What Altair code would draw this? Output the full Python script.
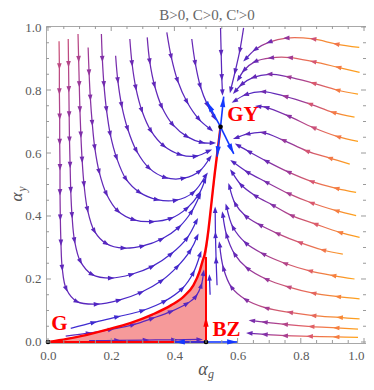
import math
import altair as alt
import pandas as pd

# ---------------- geometry of the plot area ----------------
W, H = 320, 317
X_DOM = [-0.0063, 1.0063]
Y_DOM = [-0.0032, 1.0032]

TITLE = "B>0, C>0, C'>0"
MAJOR_TICKS = [0.0, 0.2, 0.4, 0.6, 0.8, 1.0]
MINOR_TICKS = [0.05, 0.1, 0.15, 0.25, 0.3, 0.35, 0.45, 0.5, 0.55, 0.65,
               0.7, 0.75, 0.85, 0.9, 0.95]

# fixed points and their labels
FIXED_X = [0.0, 0.5, 0.546]
FIXED_Y = [0.0, 0.0, 0.683]
LABEL_TEXT = ["G", "BZ", "GY"]
LABEL_X = [0.036, 0.565, 0.617]
LABEL_Y = [0.057, 0.039, 0.72]

# blue eigen-direction arrows
GY_ARROW_X = [0.503, 0.556, 0.535, 0.588]
GY_ARROW_Y = [0.763, 0.779, 0.588, 0.597]
BZ_ARROW_X = [0.4, 0.6]
BZ_ARROW_Y = [0.0, 0.0]

# red separatrix / shaded basin
FILL_Y = [0.0, 0.01, 0.022, 0.04, 0.06, 0.087, 0.117, 0.145, 0.18, 0.225,
          0.26, 0.275, 0.35, 0.43, 0.53, 0.61, 0.683]
FILL_XL = [0.0, 0.06, 0.12, 0.19, 0.26, 0.33, 0.39, 0.43, 0.46, 0.48,
           0.49, 0.495, 0.507, 0.516, 0.527, 0.537, 0.546]
FILL_XR = [0.5, 0.5, 0.5, 0.5, 0.5, 0.5, 0.5, 0.5, 0.5, 0.5,
           0.5, 0.501, 0.51, 0.518, 0.53, 0.539, 0.546]
RED_VERT_Y = [0.0, 0.27]
RED_ARROW_TIP = [0.5, 0.082]

# ---------------- streamlines ----------------
L1 = [(0.035, 0.955), (0.036, 0.875), (0.036, 0.795), (0.037, 0.715), (0.037, 0.635),
      (0.038, 0.555), (0.038, 0.475), (0.039, 0.395), (0.041, 0.315), (0.045, 0.235),
      (0.058, 0.168), (0.092, 0.128), (0.155, 0.12), (0.225, 0.133), (0.295, 0.158),
      (0.36, 0.195), (0.41, 0.24), (0.45, 0.29), (0.472, 0.335)]
L2 = [(0.064, 0.962), (0.065, 0.882), (0.066, 0.802), (0.067, 0.722), (0.068, 0.642),
      (0.07, 0.562), (0.072, 0.482), (0.076, 0.402), (0.084, 0.322), (0.103, 0.255),
      (0.14, 0.214), (0.2, 0.203), (0.265, 0.215), (0.33, 0.24), (0.39, 0.28),
      (0.44, 0.33), (0.47, 0.385)]
L3 = [(0.095, 0.978), (0.097, 0.898), (0.099, 0.818), (0.101, 0.738), (0.104, 0.658),
      (0.108, 0.578), (0.114, 0.5), (0.125, 0.42), (0.147, 0.352), (0.185, 0.312),
      (0.24, 0.298), (0.3, 0.305), (0.36, 0.327), (0.415, 0.365), (0.455, 0.415),
      (0.48, 0.465)]
L4 = [(0.127, 0.935), (0.13, 0.855), (0.134, 0.775), (0.14, 0.695), (0.148, 0.617),
      (0.162, 0.54), (0.185, 0.47), (0.222, 0.415), (0.272, 0.388), (0.33, 0.382),
      (0.39, 0.393), (0.44, 0.425), (0.478, 0.47), (0.497, 0.515)]
L5 = [(0.169, 0.978), (0.172, 0.898), (0.177, 0.818), (0.185, 0.738), (0.197, 0.66),
      (0.217, 0.585), (0.247, 0.517), (0.29, 0.475), (0.345, 0.452), (0.405, 0.45),
      (0.46, 0.475), (0.5, 0.53)]
L6 = [(0.214, 0.909), (0.221, 0.83), (0.233, 0.752), (0.252, 0.677), (0.28, 0.607),
      (0.32, 0.552), (0.372, 0.522), (0.43, 0.52), (0.48, 0.543), (0.512, 0.585)]
L7 = [(0.259, 0.962), (0.266, 0.884), (0.278, 0.807), (0.297, 0.735), (0.326, 0.67),
      (0.367, 0.622), (0.418, 0.595), (0.468, 0.59), (0.51, 0.607)]
L8 = [(0.314, 0.967), (0.322, 0.89), (0.337, 0.815), (0.36, 0.747), (0.395, 0.69),
      (0.44, 0.652), (0.488, 0.633), (0.522, 0.632)]
L9 = [(0.376, 0.983), (0.39, 0.905), (0.41, 0.83), (0.44, 0.762), (0.478, 0.707),
      (0.515, 0.675)]
L10 = [(0.455, 0.962), (0.466, 0.885), (0.482, 0.812), (0.505, 0.752), (0.527, 0.712)]
L11 = [(0.546, 0.997), (0.548, 0.917), (0.55, 0.84), (0.552, 0.792)]
L12 = [(0.619, 0.997), (0.607, 0.925), (0.592, 0.858), (0.578, 0.8)]

U1 = [(0.985, 0.935), (0.912, 0.946), (0.839, 0.962), (0.754, 0.965), (0.7, 0.952),
      (0.655, 0.928), (0.625, 0.898)]
U2 = [(0.986, 0.856), (0.918, 0.872), (0.839, 0.89), (0.765, 0.903), (0.705, 0.902),
      (0.655, 0.89), (0.62, 0.862), (0.603, 0.835)]
U3 = [(0.981, 0.787), (0.915, 0.8), (0.839, 0.822), (0.76, 0.842), (0.7, 0.85),
      (0.65, 0.84), (0.612, 0.817), (0.592, 0.795)]
U4 = [(0.97, 0.714), (0.902, 0.729), (0.828, 0.756), (0.75, 0.78), (0.68, 0.795),
      (0.625, 0.785), (0.59, 0.765)]
U5 = [(0.981, 0.637), (0.917, 0.652), (0.839, 0.681), (0.76, 0.718), (0.69, 0.745),
      (0.665, 0.748)]
U6 = [(0.955, 0.565), (0.891, 0.584), (0.818, 0.607), (0.744, 0.641), (0.68, 0.665),
      (0.63, 0.66), (0.595, 0.648)]
R1 = [(0.975, 0.475), (0.912, 0.488), (0.833, 0.51), (0.76, 0.54), (0.69, 0.575),
      (0.635, 0.605), (0.6, 0.625)]
R2 = [(0.975, 0.401), (0.912, 0.417), (0.833, 0.442), (0.76, 0.472), (0.69, 0.508),
      (0.63, 0.54), (0.585, 0.572)]
R3 = [(0.986, 0.332), (0.923, 0.348), (0.845, 0.375), (0.77, 0.402), (0.71, 0.435),
      (0.655, 0.465), (0.61, 0.5), (0.582, 0.54)]
R4 = [(0.933, 0.279), (0.87, 0.292), (0.796, 0.316), (0.725, 0.345), (0.67, 0.372),
      (0.625, 0.4), (0.592, 0.44), (0.574, 0.495)]
R5 = [(0.97, 0.2), (0.902, 0.211), (0.828, 0.226), (0.749, 0.25), (0.68, 0.28),
      (0.625, 0.315), (0.585, 0.365), (0.565, 0.43)]
R6 = [(0.986, 0.137), (0.917, 0.144), (0.839, 0.155), (0.76, 0.175), (0.69, 0.2),
      (0.63, 0.235), (0.59, 0.28), (0.565, 0.34), (0.553, 0.405)]
R7 = [(0.986, 0.073), (0.923, 0.078), (0.839, 0.084), (0.765, 0.094), (0.69, 0.108),
      (0.625, 0.135), (0.58, 0.175), (0.555, 0.235), (0.543, 0.31)]
R8 = [(0.981, 0.041), (0.912, 0.045), (0.833, 0.049), (0.749, 0.056), (0.685, 0.063),
      (0.645, 0.068)]
R9 = [(0.981, 0.015), (0.912, 0.016), (0.828, 0.018), (0.749, 0.02), (0.685, 0.024),
      (0.637, 0.028)]
V1 = [(0.513, 0.15), (0.511, 0.205)]
V2 = [(0.535, 0.18), (0.532, 0.26), (0.53, 0.34), (0.529, 0.42)]
G1 = [(0.072, 0.043), (0.145, 0.062), (0.22, 0.08), (0.3, 0.1), (0.37, 0.13),
      (0.425, 0.17), (0.46, 0.22), (0.482, 0.28)]
F1 = [(0.056, 0.019), (0.13, 0.028), (0.2, 0.04), (0.27, 0.055), (0.33, 0.075),
      (0.39, 0.097), (0.44, 0.122), (0.468, 0.145), (0.485, 0.18), (0.492, 0.22)]
F2 = [(0.13, 0.004), (0.22, 0.005), (0.31, 0.006), (0.4, 0.007), (0.48, 0.008)]

# (points, colour index at start, colour index at end); 0 = slow/blue, 1 = fast/orange
STREAMS = [
    (L1, 0.72, 0.08), (L2, 0.7, 0.1), (L3, 0.68, 0.12), (L4, 0.62, 0.12),
    (L5, 0.56, 0.15), (L6, 0.5, 0.18), (L7, 0.5, 0.2), (L8, 0.48, 0.22),
    (L9, 0.46, 0.22), (L10, 0.44, 0.22), (L11, 0.4, 0.3), (L12, 0.42, 0.3),
    (U1, 1.0, 0.3), (U2, 1.0, 0.3), (U3, 1.0, 0.3), (U4, 1.0, 0.3),
    (U5, 1.0, 0.35), (U6, 1.0, 0.3), (R1, 1.0, 0.28), (R2, 1.0, 0.28),
    (R3, 1.0, 0.25), (R4, 0.97, 0.25), (R5, 1.0, 0.25), (R6, 1.0, 0.25),
    (R7, 1.0, 0.28), (R8, 1.0, 0.5), (R9, 1.0, 0.45), (V1, 0.12, 0.12),
    (V2, 0.22, 0.18), (G1, 0.05, 0.1), (F1, 0.38, 0.3), (F2, 0.35, 0.35),
]

PALETTE = [(0.0, "#3a2cd4"), (0.25, "#4d26c4"), (0.45, "#6a29b4"),
           (0.6, "#9c3898"), (0.75, "#d9586f"), (0.88, "#f47a46"), (1.0, "#ffa31a")]


def _hex(c):
    return tuple(int(c[i:i + 2], 16) for i in (1, 3, 5))


def pal(c):
    c = max(0.0, min(1.0, c))
    for (a, ca), (b, cb) in zip(PALETTE[:-1], PALETTE[1:]):
        if c <= b:
            t = (c - a) / (b - a)
            ra, rb = _hex(ca), _hex(cb)
            return "#" + "".join("%02x" % round(ra[k] + (rb[k] - ra[k]) * t) for k in range(3))
    return PALETTE[-1][1]


XS = W / (X_DOM[1] - X_DOM[0])
YS = H / (Y_DOM[1] - Y_DOM[0])

SX = alt.Scale(domain=X_DOM, nice=False, zero=False)
SY = alt.Scale(domain=Y_DOM, nice=False, zero=False)
FONT = "Liberation Serif"
AX = alt.Axis(values=MAJOR_TICKS, format=".1f", ticks=False, domain=False, grid=False,
              labelFont=FONT, labelFontSize=13, labelColor="#5a5a5a", labelPadding=6,
              labelFlush=False, labelOverlap=False, labelBound=False,
              labelAlign=alt.ExprRef(expr="datum.value >= 0.99 ? 'right' : 'center'"),
              title=None)
AY = alt.Axis(values=MAJOR_TICKS, format=".1f", ticks=False, domain=False, grid=False,
              labelFont=FONT, labelFontSize=13, labelColor="#5a5a5a", labelPadding=5,
              labelOverlap=False, title=None)


def X(f="x"):
    return alt.X(f, type="quantitative", scale=SX, axis=AX, title=None)


def Y(f="y"):
    return alt.Y(f, type="quantitative", scale=SY, axis=AY, title=None)


def angle_of(dx, dy):
    return math.degrees(math.atan2(dx * XS, dy * YS)) % 360.0


layers = []

# shaded basin
fill_df = pd.DataFrame({"y": FILL_Y, "x": FILL_XL, "xr": FILL_XR})
layers.append(alt.Chart(fill_df).mark_area(orient="horizontal", color="#f69a9a", opacity=1)
              .encode(y=Y(), x=X(), x2=alt.X2("xr")))

# streamlines with colour gradients, plus arrowheads
arrow_rows = []
for pts, c0, c1 in STREAMS:
    xs = [p[0] for p in pts]
    ys = [p[1] for p in pts]
    xmin, xmax, ymin, ymax = min(xs), max(xs), min(ys), max(ys)
    w = max(xmax - xmin, 1e-4)
    h = max(ymax - ymin, 1e-4)
    grad = {
        "gradient": "linear",
        "x1": (xs[0] - xmin) / w, "y1": (ymax - ys[0]) / h,
        "x2": (xs[-1] - xmin) / w, "y2": (ymax - ys[-1]) / h,
        "stops": [{"offset": o, "color": pal(c0 + (c1 - c0) * o)}
                  for o in (0.0, 0.25, 0.5, 0.75, 1.0)],
    }
    df = pd.DataFrame({"x": xs, "y": ys, "o": list(range(len(xs)))})
    layers.append(alt.Chart(df).mark_line(interpolate="catmull-rom", strokeWidth=1.25,
                                          stroke=grad)
                  .encode(x=X(), y=Y(), order="o:Q"))
    seg = [math.hypot((xs[i + 1] - xs[i]) * XS, (ys[i + 1] - ys[i]) * YS)
           for i in range(len(xs) - 1)]
    total = sum(seg)
    cum = 0.0
    for i in range(1, len(xs)):
        cum += seg[i - 1]
        j = min(i + 1, len(xs) - 1)
        a = angle_of(xs[j] - xs[i - 1], ys[j] - ys[i - 1])
        arrow_rows.append({"x": xs[i], "y": ys[i], "a": a,
                           "col": pal(c0 + (c1 - c0) * cum / total)})

STREAM_ARROW = "M0,-1L0.72,1L-0.72,1Z"
layers.append(alt.Chart(pd.DataFrame(arrow_rows))
              .mark_point(shape=STREAM_ARROW, filled=True, size=42, opacity=1, strokeWidth=0)
              .encode(x=X(), y=Y(), angle=alt.Angle("a:Q", scale=None),
                      fill=alt.Fill("col:N", scale=None)))

# red separatrix
curve_df = pd.DataFrame({"x": FILL_XL, "y": FILL_Y, "o": list(range(len(FILL_Y)))})
layers.append(alt.Chart(curve_df).mark_line(color="#ff0000", strokeWidth=2.4,
                                            interpolate="monotone")
              .encode(x=X(), y=Y(), order="o:Q"))
red_rules = pd.DataFrame({"x": [0.5, 0.0], "y": [RED_VERT_Y[0], 0.0],
                          "x2": [0.5, 0.5], "y2": [RED_VERT_Y[1], 0.0]})
layers.append(alt.Chart(red_rules).mark_rule(color="#ff0000", strokeWidth=2)
              .encode(x=X(), y=Y(), x2=alt.X2("x2"), y2=alt.Y2("y2")))

TIP_ARROW = "M0,0L0.5,2L-0.5,2Z"
layers.append(alt.Chart(pd.DataFrame({"x": [RED_ARROW_TIP[0]], "y": [RED_ARROW_TIP[1]],
                                      "a": [0.0]}))
              .mark_point(shape=TIP_ARROW, filled=True, size=110, color="#ff0000",
                          opacity=1, strokeWidth=0)
              .encode(x=X(), y=Y(), angle=alt.Angle("a:Q", scale=None)))

# blue arrows
blue_rows = []
for ex, ey in zip(GY_ARROW_X, GY_ARROW_Y):
    blue_rows.append({"x": FIXED_X[2], "y": FIXED_Y[2], "x2": ex, "y2": ey,
                      "a": angle_of(ex - FIXED_X[2], ey - FIXED_Y[2])})
for ex, ey in zip(BZ_ARROW_X, BZ_ARROW_Y):
    blue_rows.append({"x": FIXED_X[1], "y": FIXED_Y[1], "x2": ex, "y2": ey,
                      "a": angle_of(ex - FIXED_X[1], ey - FIXED_Y[1])})
blue_df = pd.DataFrame(blue_rows)
layers.append(alt.Chart(blue_df).mark_rule(color="#1438ff", strokeWidth=1.6)
              .encode(x=X(), y=Y(), x2=alt.X2("x2"), y2=alt.Y2("y2")))
layers.append(alt.Chart(blue_df)
              .mark_point(shape=TIP_ARROW, filled=True, size=110, color="#1438ff",
                          opacity=1, strokeWidth=0)
              .encode(x=X("x2"), y=Y("y2"), angle=alt.Angle("a:Q", scale=None)))

# fixed points
layers.append(alt.Chart(pd.DataFrame({"x": FIXED_X, "y": FIXED_Y}))
              .mark_point(shape="circle", filled=True, size=22, color="black", opacity=1)
              .encode(x=X(), y=Y()))

# labels
layers.append(alt.Chart(pd.DataFrame({"x": LABEL_X, "y": LABEL_Y, "t": LABEL_TEXT}))
              .mark_text(font=FONT, fontSize=21, fontWeight="bold", color="#ff0000",
                         align="center", baseline="middle")
              .encode(x=X(), y=Y(), text="t:N"))


# inward frame ticks
def tick_layers(vals, length):
    d = pd.DataFrame({"v": vals})
    out = []
    base = alt.Chart(d).mark_rule(color="#9a9a9a", strokeWidth=1)
    out.append(base.encode(x=X("v"), y=alt.value(H), y2=alt.value(H - length)))
    out.append(base.encode(x=X("v"), y=alt.value(0), y2=alt.value(length)))
    out.append(base.encode(y=Y("v"), x=alt.value(0), x2=alt.value(length)))
    out.append(base.encode(y=Y("v"), x=alt.value(W), x2=alt.value(W - length)))
    return out


layers += tick_layers(MAJOR_TICKS, 5)
layers += tick_layers(MINOR_TICKS, 3)

# title and axis titles
one = pd.DataFrame({"k": [0]})
layers.append(alt.Chart(one).mark_text(text=TITLE, font=FONT, fontSize=15, color="#666666",
                                       align="center", baseline="middle")
              .encode(x=alt.value(161), y=alt.value(-11)))
layers.append(alt.Chart(one).mark_text(text="α", font=FONT, fontSize=18, fontStyle="italic",
                                       color="#555555", align="center", baseline="middle")
              .encode(x=alt.value(157), y=alt.value(344)))
layers.append(alt.Chart(one).mark_text(text="g", font=FONT, fontSize=12, fontStyle="italic",
                                       color="#555555", align="center", baseline="middle")
              .encode(x=alt.value(165), y=alt.value(348)))
layers.append(alt.Chart(one).mark_text(text="α", font=FONT, fontSize=17, fontStyle="italic",
                                       color="#555555", align="center", baseline="middle",
                                       angle=270)
              .encode(x=alt.value(-29), y=alt.value(171)))
layers.append(alt.Chart(one).mark_text(text="y", font=FONT, fontSize=12, fontStyle="italic",
                                       color="#555555", align="center", baseline="middle",
                                       angle=270)
              .encode(x=alt.value(-24), y=alt.value(163)))

chart = (alt.layer(*layers)
         .properties(width=W, height=H, autosize="none",
                     padding={"left": 38, "top": 18, "right": 0, "bottom": 39},
                     background="white")
         .configure_view(stroke="#a8a8a8", strokeWidth=1))

chart.save("out.html", embed_options={"renderer": "svg", "actions": False})
